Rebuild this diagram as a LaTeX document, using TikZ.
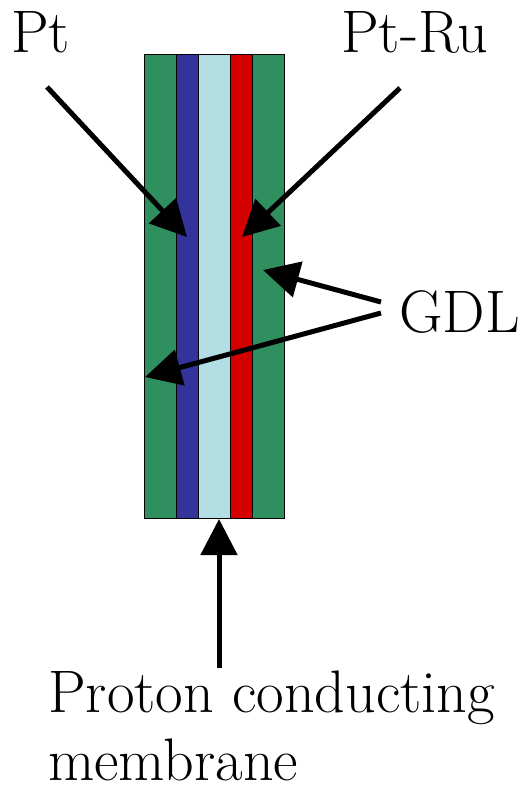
\documentclass[tikz,border=0pt]{standalone}
\usepackage{fontspec}
\usetikzlibrary{arrows.meta}
\definecolor{gdlgreen}{RGB}{47,143,94}
\definecolor{ptblue}{RGB}{51,51,155}
\definecolor{memblue}{RGB}{178,222,228}
\definecolor{rured}{RGB}{212,0,0}
\begin{document}
\begin{tikzpicture}[x=1pt,y=-1pt,
  layer/.style={draw=black, line width=1pt, inner sep=0pt, outer sep=0pt, anchor=north west, minimum height=463pt},
  lbl/.style={font=\fontsize{60}{70}\selectfont, inner sep=0pt, anchor=base west},
  pointer/.style={line width=5pt, -{Triangle[length=36pt,width=36pt]}}]
\useasboundingbox (0,0) rectangle (524,786);
% layers
\node[layer, fill=gdlgreen, minimum width=32pt] (gdlA) at (144,55) {};
\node[layer, fill=ptblue,   minimum width=22pt] (cat)  at (176,55) {};
\node[layer, fill=memblue,  minimum width=32pt] (mem)  at (198,55) {};
\node[layer, fill=rured,    minimum width=22pt] (ano)  at (230,55) {};
\node[layer, fill=gdlgreen, minimum width=32pt] (gdlB) at (252,55) {};
% labels
\node[lbl] (pt)   at (11,53)  {Pt};
\node[lbl] (ptru) at (341,53) {Pt-Ru};
\node[lbl] (gdl)  at (399,332) {GDL};
\node[lbl] (pcm)  at (48,712) {Proton conducting};
\node[lbl] (memb) at (48,780) {membrane};
% arrow ends
\coordinate (ptS)   at (47,87);
\coordinate (ptE)   at (187,237);
\coordinate (ruS)   at (400,88);
\coordinate (ruE)   at (242,237);
\coordinate (g1S)   at (381,302);
\coordinate (g1E)   at (263,270);
\coordinate (g2S)   at (381,313);
\coordinate (g2E)   at (145,377);
\coordinate (pmS)   at (219,668);
\coordinate (pmE)   at (219,519);
% arrows
\draw[pointer] (ptS) -- (ptE);
\draw[pointer] (ruS) -- (ruE);
\draw[pointer] (g1S) -- (g1E);
\draw[pointer] (g2S) -- (g2E);
\draw[pointer] (pmS) -- (pmE);
\end{tikzpicture}
\end{document}
